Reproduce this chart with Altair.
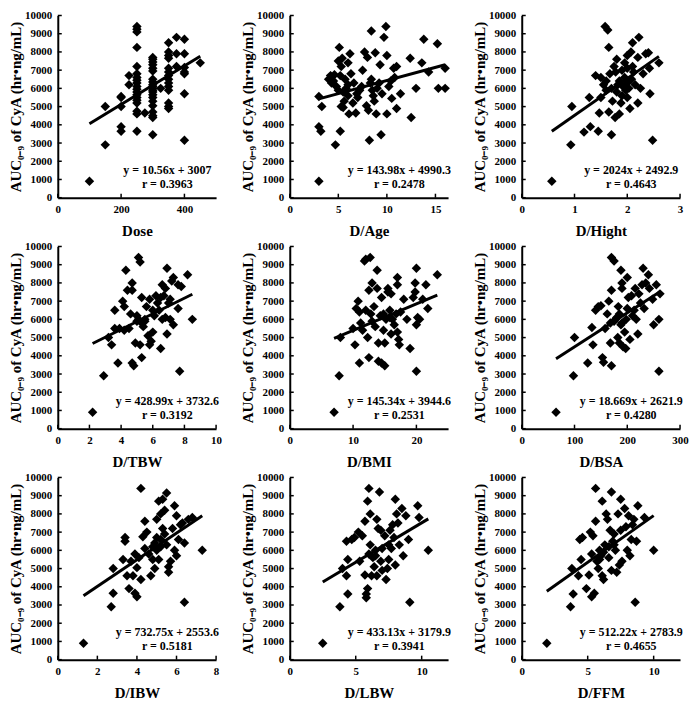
import altair as alt
import pandas as pd

Y_TITLE = "AUC₀₋₉ of CyA (hr•ng/mL)"
Y_TICKS = [0, 1000, 2000, 3000, 4000, 5000, 6000, 7000, 8000, 9000, 10000]

# ---- Dose ----
dose_x = [100, 150, 150, 200, 200, 200, 200, 200, 225, 225,
          250, 250, 250, 250, 250, 250, 250, 250, 250, 250, 250, 250, 250, 250, 250, 250, 250, 250, 250,
          275,
          300, 300, 300, 300, 300, 300, 300, 300, 300, 300, 300, 300, 300, 300, 300, 300, 300, 300, 300, 300, 300,
          325,
          350, 350, 350, 350, 350, 350, 350, 350, 350, 350, 350, 350, 350, 350,
          375, 375, 375,
          400, 400, 400, 400, 400, 400, 400,
          450]
dose_y = [900, 5000, 2900, 5550, 5500, 5000, 3900, 3650, 6700, 6200,
          9400, 9250, 9100, 8250, 7200, 6800, 6600, 6450, 6300, 6100, 5950, 5800, 5650, 5500, 5350, 5200, 4750, 4600, 3650,
          4650,
          7700, 7600, 7450, 7300, 7100, 6950, 6500, 6350, 6200, 6100, 6000, 5900, 5800, 5650, 5500, 5300, 5050, 4700, 4500, 4400, 3450,
          6000,
          8500, 8000, 7800, 7650, 7100, 6900, 6700, 6500, 6300, 6100, 5900, 5200, 5000, 4900,
          8800, 7900, 7200,
          8700, 7900, 7150, 6900, 6800, 5700, 3150,
          7400]

# ---- D/Age ----
age_x = [3.0, 3.0, 3.0, 3.2, 3.3, 4.0, 4.2, 4.5, 4.6, 4.7, 4.8, 5.0, 5.1, 5.2, 5.0, 5.3, 5.4, 5.5, 5.3, 5.5,
         5.7, 5.8, 5.6, 6.0, 6.2, 6.0, 6.1, 6.3, 6.5, 6.6, 6.8, 6.9, 7.2, 7.5, 7.7, 7.9, 8.0, 8.1, 8.3, 8.2,
         8.4, 8.4, 8.6, 8.8, 8.9, 9.0, 9.3, 9.4, 9.5, 9.7, 9.9, 10.0, 10.0, 10.2, 10.5, 10.7, 11.0, 11.0, 11.4, 10.8,
         12.4, 12.5, 13.0, 13.6, 13.8, 14.3, 15.2, 15.3, 16.0, 16.0, 8.5, 7.0, 6.0, 5.2, 4.3, 9.2, 10.4, 7.4, 8.7]
age_y = [900, 5550, 3900, 3650, 5000, 6500, 6700, 6400, 6750, 2900, 6100, 7500, 8250, 3650, 5900, 7200, 7650, 5800, 5000, 4950,
         6500, 6000, 5300, 7400, 7900, 5600, 4600, 6800, 5200, 6300, 4650, 5700, 5900, 7000, 8000, 5050, 7700, 4800, 6300, 3150,
         9150, 6500, 5600, 7950, 4600, 6000, 7300, 3450, 5700, 8800, 9400, 7800, 4600, 6100, 5450, 7100, 7200, 4900, 5700, 6600,
         7650, 4400, 6000, 7400, 8700, 6900, 8450, 6000, 7100, 6000, 5900, 5500, 6200, 6700, 6300, 6300, 6400, 6100, 5300]

# ---- D/Hight ----
hgt_x = [0.57, 0.93, 0.95, 1.18, 1.28, 1.30, 1.40, 1.45, 1.47, 1.50, 1.50, 1.55, 1.58, 1.63, 1.60, 1.65, 1.67, 1.65, 1.70, 1.70,
         1.72, 1.75, 1.77, 1.80, 1.80, 1.82, 1.85, 1.85, 1.90, 1.90, 1.92, 1.95, 1.95, 1.97, 2.00, 2.00, 2.00, 2.03, 2.05, 2.07,
         2.08, 2.10, 2.10, 2.12, 2.15, 2.20, 2.22, 2.20, 2.25, 2.30, 2.35, 2.40, 2.42, 2.43, 2.48, 2.60, 1.78, 1.88, 1.60, 2.00]
hgt_y = [900, 2900, 5000, 3600, 5500, 3900, 6700, 3650, 4650, 5500, 6600, 6200, 9400, 9200, 5900, 8250, 6800, 4700, 3450, 6000,
         5300, 7200, 4400, 7600, 5800, 6200, 4600, 6400, 7000, 5600, 6100, 7400, 6600, 5900, 7800, 6300, 5500, 6000, 4900, 8000,
         6500, 7200, 8500, 6900, 6200, 5200, 8800, 7700, 6000, 6800, 7900, 7950, 7100, 5700, 3150, 7400, 6900, 5200, 6400, 7100]

# ---- D/TBW ----
tbw_x = [2.2, 2.9, 3.2, 3.4, 3.6, 3.6, 3.8, 3.9, 4.1, 4.2, 4.3, 4.2, 4.4, 4.6, 4.7, 4.7, 4.7, 4.8, 4.9, 5.0,
         5.1, 5.2, 5.1, 5.2, 5.3, 5.3, 5.3, 5.4, 5.5, 5.6, 5.7, 5.8, 5.8, 5.9, 6.0, 6.1, 6.2, 6.3, 6.4, 6.5,
         6.5, 6.6, 6.6, 6.7, 6.8, 6.8, 6.9, 6.9, 7.0, 7.1, 7.1, 7.2, 7.3, 7.3, 7.6, 7.6, 7.7, 7.8, 8.2, 8.5,
         5.5, 6.0, 4.5, 5.0]
tbw_y = [900, 2900, 5000, 4600, 6500, 5500, 3600, 5500, 7000, 6700, 8700, 5400, 7600, 6300, 8000, 7600, 3600, 3450, 4700, 6200,
         9400, 9150, 6000, 4600, 3900, 5800, 7200, 5600, 6000, 6700, 5100, 7100, 4600, 4800, 5300, 6200, 7300, 6900, 6500, 7200,
         4400, 7900, 6000, 7300, 7700, 6100, 8800, 5200, 6900, 7100, 6000, 8100, 8300, 5700, 6600, 7900, 3150, 7800, 8450, 6000,
         5900, 6500, 5500, 5900]

# ---- D/BMI ----
bmi_x = [7.0, 7.8, 8.0, 10.0, 10.3, 10.5, 10.8, 11.0, 11.0, 11.2, 11.5, 11.8, 12.0, 12.7, 12.0, 12.3, 12.5, 12.5, 12.8, 13.0,
         13.3, 13.5, 13.8, 13.8, 14.0, 14.0, 14.3, 14.5, 14.5, 14.8, 15.0, 15.0, 15.2, 15.5, 15.5, 15.8, 16.0, 16.2, 16.5, 16.8,
         17.0, 17.0, 17.0, 17.2, 17.3, 17.5, 18.0, 18.5, 19.0, 19.5, 19.8, 19.8, 20.0, 20.0, 20.0, 20.2, 20.5, 21.0, 21.5, 21.8,
         23.3, 14.8, 15.8, 13.0, 16.0]
bmi_y = [900, 2900, 5000, 5500, 4600, 6600, 7000, 3600, 6400, 5800, 5400, 9200, 9300, 9400, 6500, 5000, 7600, 3900, 6300, 8000,
         6700, 5600, 8700, 7700, 4700, 3700, 6200, 7200, 3600, 5400, 4700, 3450, 6000, 7700, 7500, 6500, 5200, 6000, 5700, 6300,
         7900, 8300, 5300, 4900, 4600, 6400, 7100, 6000, 4400, 7200, 7500, 8000, 8800, 5700, 3150, 6100, 6000, 7100, 7900, 6600,
         8450, 6300, 6100, 5900, 7400]

# ---- D/BSA ----
bsa_x = [65, 98, 100, 125, 133, 135, 140, 145, 150, 153, 155, 158, 162, 165, 168, 168, 170, 170, 170, 175,
         178, 180, 182, 183, 185, 188, 188, 190, 190, 192, 195, 197, 198, 200, 202, 205, 208, 210, 213, 215,
         217, 220, 222, 225, 228, 230, 232, 235, 240, 242, 248, 250, 255, 260, 260, 262, 190, 185, 175, 200]
bsa_y = [900, 2900, 5000, 3600, 5550, 4600, 6500, 6700, 6750, 3900, 3650, 5500, 6300, 7000, 5800, 4700, 9400, 7600, 3450, 9200,
         6000, 6100, 5000, 6700, 4700, 8700, 5700, 7700, 8000, 4500, 5300, 4400, 6000, 8300, 7200, 4900, 7300, 6200, 6500, 7700,
         6000, 5200, 7400, 6900, 7900, 8800, 6600, 8000, 8450, 7700, 7100, 5700, 7900, 6000, 3150, 7400, 5800, 6300, 5900, 6600]

# ---- D/IBW ----
ibw_x = [1.3, 2.7, 2.8, 2.8, 3.3, 3.4, 3.4, 3.5, 3.6, 3.7, 3.8, 3.9, 3.9, 4.0, 4.0, 4.1, 4.2, 4.2, 4.3, 4.4,
         4.4, 4.5, 4.6, 4.7, 4.8, 4.9, 4.9, 5.0, 5.0, 5.1, 5.1, 5.2, 5.2, 5.3, 5.3, 5.4, 5.4, 5.5, 5.5, 5.6,
         5.6, 5.7, 5.8, 5.9, 5.9, 6.0, 6.0, 6.1, 6.2, 6.3, 6.4, 6.4, 6.6, 6.8, 7.3, 4.8, 5.0, 5.2]
ibw_y = [900, 2900, 3650, 5000, 5500, 6700, 6500, 4600, 3900, 5400, 4600, 5800, 3650, 3450, 5050, 5600, 4400, 9400, 6750, 7600,
         6100, 7000, 5800, 4600, 6200, 6400, 5000, 7700, 6000, 8700, 5500, 8000, 6600, 7200, 8800, 8200, 6900, 9150, 6300, 4800,
         5100, 5400, 7200, 8450, 6000, 5700, 7900, 6600, 7400, 7500, 6400, 3150, 7700, 7800, 6000, 5500, 6700, 6200]

# ---- D/LBW ----
lbw_x = [2.5, 3.8, 4.0, 4.3, 4.3, 4.4, 4.4, 4.7, 4.9, 5.2, 5.3, 5.5, 5.7, 5.7, 5.8, 5.8, 5.9, 6.0, 5.9, 6.0,
         6.1, 6.1, 6.2, 6.3, 6.4, 6.5, 6.6, 6.6, 6.7, 6.8, 6.9, 6.9, 7.0, 7.2, 7.3, 7.4, 7.5, 7.6, 7.7, 7.8,
         7.9, 8.0, 8.0, 8.1, 8.2, 8.3, 8.5, 8.6, 8.8, 9.0, 9.1, 9.7, 9.8, 10.5, 6.5, 7.0, 7.5]
lbw_y = [900, 2900, 5000, 4600, 6500, 3600, 5500, 6600, 6700, 7000, 5400, 6800, 7600, 4650, 3400, 3600, 3900, 9400, 8700, 5800,
         8000, 6300, 4600, 5600, 5100, 6000, 7700, 4600, 7200, 9200, 7100, 5400, 4900, 6800, 4400, 5000, 5500, 7100, 6100, 7400,
         6700, 8800, 5200, 8000, 7500, 6300, 8300, 5700, 7900, 6600, 3150, 8450, 7800, 6000, 5700, 6100, 6300]

# ---- D/FFM ----
ffm_x = [1.9, 3.7, 3.8, 3.9, 4.3, 4.4, 4.5, 4.6, 4.9, 5.1, 5.2, 5.3, 5.3, 5.4, 5.5, 5.6, 5.6, 5.7, 5.8, 5.9,
         6.0, 6.1, 6.1, 6.2, 6.3, 6.4, 6.5, 6.6, 6.7, 6.8, 6.8, 6.9, 7.0, 7.1, 7.2, 7.3, 7.4, 7.5, 7.5, 7.6,
         7.8, 7.9, 8.0, 8.1, 8.2, 8.3, 8.4, 8.5, 8.6, 8.7, 8.8, 9.3, 10.0, 6.2, 6.6, 7.0, 5.9]
ffm_y = [900, 2900, 5000, 3600, 4600, 6600, 5500, 6700, 3900, 4650, 7000, 3450, 5800, 6800, 3650, 9400, 7600, 5400, 5000, 6000,
         5700, 4600, 8700, 4400, 6300, 8000, 7700, 5600, 7100, 9200, 4900, 6500, 6900, 6000, 4800, 8000, 5200, 8800, 7100, 5400,
         8300, 7300, 6000, 7900, 5700, 6600, 7400, 7700, 3150, 6500, 8450, 7800, 6000, 5900, 6200, 6300, 5500]

x_titles = ["Dose", "D/Age", "D/Hight", "D/TBW", "D/BMI", "D/BSA", "D/IBW", "D/LBW", "D/FFM"]
x_series = [dose_x, age_x, hgt_x, tbw_x, bmi_x, bsa_x, ibw_x, lbw_x, ffm_x]
y_series = [dose_y, age_y, hgt_y, tbw_y, bmi_y, bsa_y, ibw_y, lbw_y, ffm_y]
slopes = [10.56, 143.98, 2024, 428.99, 145.34, 18.669, 732.75, 433.13, 512.22]
intercepts = [3007, 4990.3, 2492.9, 3732.6, 3944.6, 2621.9, 2553.6, 3179.9, 2783.9]
eq_labels = ["y = 10.56x + 3007", "y = 143.98x + 4990.3", "y = 2024x + 2492.9",
             "y = 428.99x + 3732.6", "y = 145.34x + 3944.6", "y = 18.669x + 2621.9",
             "y = 732.75x + 2553.6", "y = 433.13x + 3179.9", "y = 512.22x + 2783.9"]
r_labels = ["r = 0.3963", "r = 0.2478", "r = 0.4643", "r = 0.3192", "r = 0.2531",
            "r = 0.4280", "r = 0.5181", "r = 0.3941", "r = 0.4655"]
x_domains = [[0, 500], [0, 16.3], [0, 3], [0, 10], [0, 25], [0, 300], [0, 8], [0, 12], [0, 12]]
x_ticks = [[0, 200, 400], [0, 5, 10, 15], [0, 1, 2, 3], [0, 2, 4, 6, 8, 10], [0, 10, 20],
           [0, 100, 200, 300], [0, 2, 4, 6, 8], [0, 5, 10], [0, 5, 10]]

W, H = 159, 183
FONT = "Liberation Serif"
TICK_LEN = 4


def panel(i):
    xs, ys = x_series[i], y_series[i]
    pts = pd.DataFrame({"x": xs, "y": ys})
    xmin, xmax = min(xs), max(xs)
    line = pd.DataFrame({"x": [xmin, xmax],
                         "y": [slopes[i] * xmin + intercepts[i], slopes[i] * xmax + intercepts[i]]})
    xaxis = alt.Axis(values=x_ticks[i], title=x_titles[i], labelOverlap=False, labelFlush=False,
                     tickCount=len(x_ticks[i]), ticks=False)
    yaxis = alt.Axis(values=Y_TICKS, title=Y_TITLE, format="d", labelOverlap=False, labelFlush=False,
                     tickCount=11, ticks=False)
    xscale = alt.Scale(domain=x_domains[i], nice=False, zero=False)
    yscale = alt.Scale(domain=[0, 10000], nice=False)
    X = alt.X("x:Q", scale=xscale, axis=xaxis)
    Y = alt.Y("y:Q", scale=yscale, axis=yaxis)
    p = alt.Chart(pts).mark_point(shape="diamond", filled=True, color="black", size=90, opacity=1).encode(x=X, y=Y)
    l = alt.Chart(line).mark_line(color="black", strokeWidth=3).encode(x=X, y=Y)
    # inward tick marks at the axis tick values
    xt = alt.Chart(pd.DataFrame({"x": x_ticks[i]})).mark_rule(color="black", strokeWidth=1.5).encode(
        x=X, y=alt.value(H), y2=alt.value(H - TICK_LEN))
    yt = alt.Chart(pd.DataFrame({"y": Y_TICKS})).mark_rule(color="black", strokeWidth=1.5).encode(
        y=Y, x=alt.value(0), x2=alt.value(TICK_LEN))
    txt = pd.DataFrame({"t": [eq_labels[i], r_labels[i]], "k": [0, 1]})
    t1 = alt.Chart(txt).transform_filter("datum.k == 0").mark_text(
        font=FONT, fontWeight="bold", fontSize=12, align="center", baseline="middle", color="black"
    ).encode(text="t:N", x=alt.value(110), y=alt.value(155))
    t2 = alt.Chart(txt).transform_filter("datum.k == 1").mark_text(
        font=FONT, fontWeight="bold", fontSize=12, align="center", baseline="middle", color="black"
    ).encode(text="t:N", x=alt.value(110), y=alt.value(169))
    return alt.layer(xt, yt, p, l, t1, t2).properties(width=W, height=H)


chart = alt.concat(*[panel(i) for i in range(9)], columns=3, spacing={"row": 49, "column": 74},
                   bounds="flush").properties(padding=0).configure_view(stroke=None).configure_axis(
    grid=False,
    domainColor="black",
    domainWidth=2,
    labelFont=FONT,
    labelFontWeight="bold",
    labelFontSize=11,
    labelColor="black",
    labelOverlap=False,
    titleFont=FONT,
    titleFontWeight="bold",
    titleFontSize=15,
    titleColor="black",
).configure_axisX(labelPadding=6, titlePadding=9).configure_axisY(labelPadding=6, titlePadding=1)

chart.save("out.html", embed_options={"renderer": "svg", "actions": False})
